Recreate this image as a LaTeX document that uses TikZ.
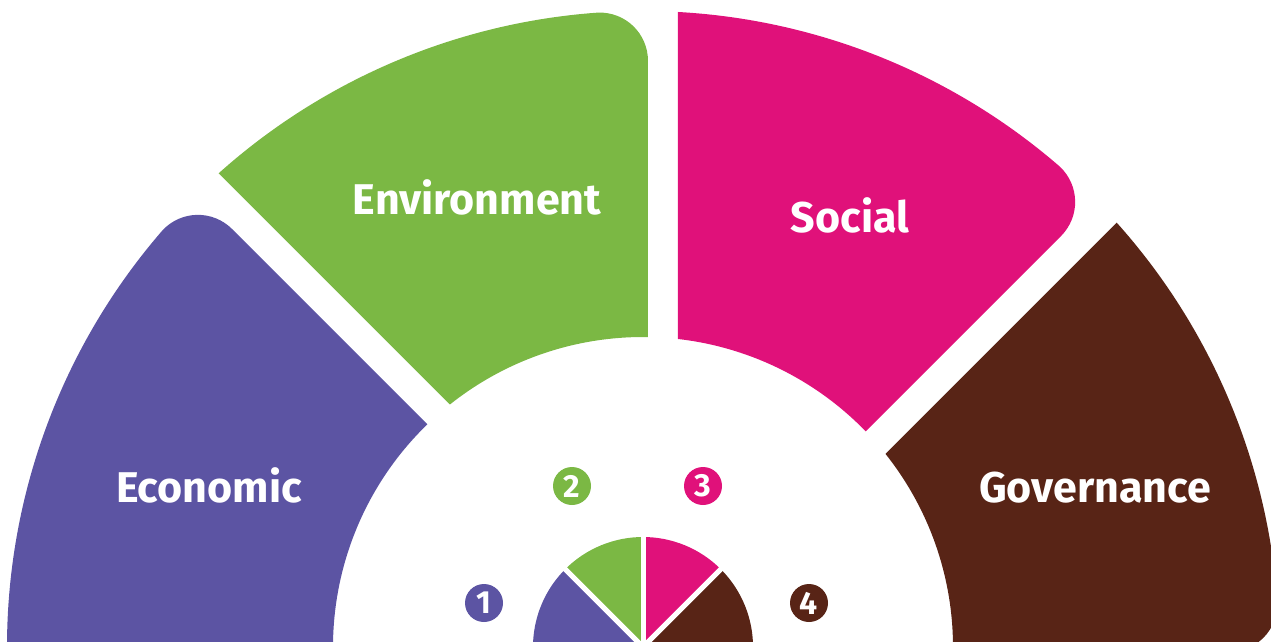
\documentclass[tikz,border=0pt]{standalone}
\usepackage{fontspec}
\setmainfont{Fira Sans}
\usetikzlibrary{calc}

\definecolor{econ}{HTML}{5C54A3}
\definecolor{envi}{HTML}{7BB844}
\definecolor{soci}{HTML}{E0117A}
\definecolor{gove}{HTML}{582416}

\begin{document}
\begin{tikzpicture}[x=1pt,y=1pt,
  segtext/.style={text=white,anchor=base,font=\fontsize{43}{50}\selectfont\bfseries},
  numdot/.style={circle,fill=#1,text=white,minimum size=38pt,inner sep=0pt,
    font=\fontsize{32}{34}\selectfont\bfseries}]

\useasboundingbox (0,0) rectangle (1271,641);
\clip (0,0) rectangle (1271,641);

\def\rin{310}
\def\rout{636}
\coordinate (O) at (643,-6);

% define the rounded corners
  \coordinate (pC) at ($(O)+(134.55:\rout)$);
  \coordinate (pA) at ($(O)+(139.05:\rout)$);
  \coordinate (pB) at ($(pC)+(315:50)$);
  \coordinate (gC) at ($(O)+(89.55:\rout)$);
  \coordinate (gA) at ($(O)+(94.05:\rout)$);
  \coordinate (gB) at ($(gC)+(270:50)$);
  \coordinate (sC) at ($(O)+(44.55:\rout)$);
  \coordinate (sA) at ($(O)+(49.05:\rout)$);
  \coordinate (sB) at ($(sC)+(225:50)$);
  \coordinate (bC) at ($(O)+(-0.45:\rout)$);
  \coordinate (bA) at ($(O)+(4.05:\rout)$);
  \coordinate (bB) at ($(bC)+(180:50)$);

% define the outer ring
  \fill[econ] ($(O)+(134.08:\rin)$) -- (pB)
    .. controls ($(pB)!0.55!(pC)$) and ($(pA)!0.55!(pC)$) .. (pA)
    arc[start angle=139.05,end angle=190,radius=\rout]
    -- ($(O)+(190:\rin)$) arc[start angle=190,end angle=134.08,radius=\rin] -- cycle;
  \fill[envi] ($(O)+(128.52:\rin)$) -- ($(O)+(131.85:\rout)$)
    arc[start angle=131.85,end angle=94.05,radius=\rout]
    .. controls ($(gA)!0.55!(gC)$) and ($(gB)!0.55!(gC)$) .. (gB)
    -- ($(O)+(89.08:\rin)$) arc[start angle=89.08,end angle=128.52,radius=\rin] -- cycle;
  \fill[soci] ($(O)+(83.52:\rin)$) -- ($(O)+(86.85:\rout)$)
    arc[start angle=86.85,end angle=49.05,radius=\rout]
    .. controls ($(sA)!0.55!(sC)$) and ($(sB)!0.55!(sC)$) .. (sB)
    -- ($(O)+(44.08:\rin)$) arc[start angle=44.08,end angle=83.52,radius=\rin] -- cycle;
  \fill[gove] ($(O)+(38.52:\rin)$) -- ($(O)+(41.85:\rout)$)
    arc[start angle=41.85,end angle=4.05,radius=\rout]
    .. controls ($(bA)!0.55!(bC)$) and ($(bB)!0.55!(bC)$) .. (bB)
    -- ($(O)+(-0.92:\rin)$) arc[start angle=-0.92,end angle=38.52,radius=\rin] -- cycle;

% define the small pie
  \fill[econ] (O) -- ++(135:110) arc[start angle=135,end angle=190,radius=110] -- cycle;
  \fill[envi] (O) -- ++(90:110) arc[start angle=90,end angle=135,radius=110] -- cycle;
  \fill[soci] (O) -- ++(45:110) arc[start angle=45,end angle=90,radius=110] -- cycle;
  \fill[gove] (O) -- ++(-10:110) arc[start angle=-10,end angle=45,radius=110] -- cycle;
  \foreach \a in {45,90,135}
    \draw[white,line width=5pt] (O) -- ++(\a:115);

% define the labels
  \node[segtext] (economic) at (209,139) {Economic};
  \node[segtext] (environment) at (477,426) {Environment};
  \node[segtext] (social) at (850,408) {Social};
  \node[segtext] (governance) at (1095,139) {Governance};

  \node[numdot=econ] (n1) at (484,38) {1};
  \node[numdot=envi] (n2) at (572,155) {2};
  \node[numdot=soci] (n3) at (703,155) {3};
  \node[numdot=gove] (n4) at (809,38) {4};

\end{tikzpicture}
\end{document}
